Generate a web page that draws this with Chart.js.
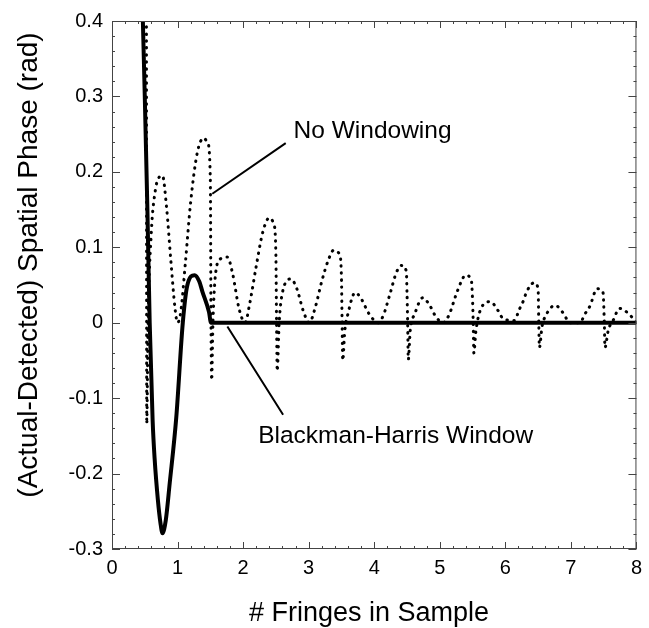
<!DOCTYPE html>
<html>
<head>
<meta charset="utf-8">
<script src="https://cdn.jsdelivr.net/npm/chart.js@4"></script>
<style>
  html, body { margin: 0; padding: 0; background: #fff; }
  #wrap { width: 649px; height: 628px; }
</style>
</head>
<body>
<div id="wrap"><canvas id="phase-chart" width="649" height="628"></canvas></div>
<script>
// values: [fringes, phase error in rad]
const noWindowX = [0.525, 0.53, 0.55, 0.6, 0.66, 0.72, 0.77, 0.83, 0.9, 0.96, 1.0, 1.05, 1.12, 1.2, 1.3, 1.4, 1.46, 1.5, 1.51, 1.52, 1.54, 1.58, 1.66, 1.76, 1.84, 1.94, 2.03,
  2.1, 2.2, 2.3, 2.4, 2.47, 2.5, 2.51, 2.52, 2.55, 2.6, 2.73, 2.82, 2.92, 3.01,
  3.1, 3.2, 3.3, 3.38, 3.47, 3.5, 3.51, 3.52, 3.55, 3.6, 3.71, 3.8, 3.92, 4.06,
  4.14, 4.24, 4.34, 4.42, 4.49, 4.5, 4.51, 4.52, 4.55, 4.62, 4.74, 4.84, 4.94, 5.05,
  5.14, 5.24, 5.33, 5.39, 5.48, 5.5, 5.51, 5.52, 5.55, 5.62, 5.77, 5.89, 5.97, 6.14,
  6.21, 6.27, 6.33, 6.44, 6.5, 6.51, 6.52, 6.56, 6.62, 6.76, 6.89, 6.98, 7.14,
  7.21, 7.29, 7.4, 7.49, 7.51, 7.52, 7.57, 7.65, 7.74, 7.88, 8.0];
const noWindowY = [0.42, -0.134, 0.0, 0.12, 0.175, 0.193, 0.195, 0.155, 0.08, 0.02, 0.0, 0.015, 0.08, 0.16, 0.225, 0.245, 0.238, 0.19, 0.0, -0.076, 0.0, 0.065, 0.085, 0.087, 0.065, 0.018, 0.0,
  0.025, 0.075, 0.12, 0.139, 0.13, 0.09, 0.0, -0.064, 0.0, 0.04, 0.058, 0.045, 0.015, 0.0,
  0.02, 0.055, 0.083, 0.096, 0.091, 0.06, 0.0, -0.05, -0.012, 0.012, 0.04, 0.032, 0.012, 0.0,
  0.01, 0.038, 0.067, 0.076, 0.068, 0.04, 0.0, -0.049, -0.01, 0.012, 0.033, 0.024, 0.008, 0.0,
  0.01, 0.035, 0.055, 0.063, 0.057, 0.03, 0.0, -0.04, -0.012, 0.017, 0.028, 0.016, 0.005, 0.003,
  0.017, 0.028, 0.042, 0.053, 0.045, 0.0, -0.033, -0.005, 0.01, 0.023, 0.012, 0.0, 0.0,
  0.011, 0.022, 0.045, 0.04, 0.0, -0.033, -0.01, 0.004, 0.019, 0.012, 0.0];

const windowX = [0.465, 0.5, 0.54, 0.575, 0.62, 0.65, 0.7, 0.74, 0.77, 0.82, 0.88, 0.98, 1.08, 1.15, 1.26, 1.33, 1.38, 1.48, 1.51, 8.0];
const windowY = [0.42, 0.3, 0.15, 0.0, -0.13, -0.18, -0.235, -0.266, -0.279, -0.262, -0.213, -0.126, 0.0, 0.05, 0.063, 0.055, 0.041, 0.014, 0.0, 0.0];

const xTicks = [0, 1, 2, 3, 4, 5, 6, 7, 8];
const yTicks = [-0.3, -0.2, -0.1, 0, 0.1, 0.2, 0.3, 0.4];
const yTickLabels = ['-0.3', '-0.2', '-0.1', '0', '0.1', '0.2', '0.3', '0.4'];

const xTitle = '# Fringes in Sample';
const yTitle = '(Actual-Detected) Spatial Phase (rad)';
const labelNoWindow = 'No Windowing';
const labelWindow = 'Blackman-Harris Window';

const FONT = "'Liberation Sans', Arial, Helvetica, sans-serif";

function toPoints(xs, ys) {
    return xs.map((x, i) => ({ x: x, y: ys[i] }));
}

// ticks pointing inward on all four sides, frame, titles and the two callouts
const framePlugin = {
    id: 'frame',
    afterDraw(chart) {
        const ctx = chart.ctx;
        const xs = chart.scales.x;
        const ys = chart.scales.y;
        const a = chart.chartArea;

        ctx.save();
        ctx.strokeStyle = '#444';
        ctx.lineWidth = 1;
        ctx.strokeRect(a.left + 0.5, a.top + 0.5, a.right - a.left - 1, a.bottom - a.top - 1);

        ctx.beginPath();
        for (let i = 0; i <= 40; i++) {
            const px = Math.round(xs.getPixelForValue(i * 0.2)) + 0.5;
            const len = i % 5 === 0 ? 7 : 3;
            ctx.moveTo(px, a.bottom); ctx.lineTo(px, a.bottom - len);
            ctx.moveTo(px, a.top); ctx.lineTo(px, a.top + len);
        }
        for (let i = 0; i <= 35; i++) {
            const py = Math.round(ys.getPixelForValue(-0.3 + i * 0.02)) + 0.5;
            const len = i % 5 === 0 ? 8 : 3;
            ctx.moveTo(a.left, py); ctx.lineTo(a.left + len, py);
            ctx.moveTo(a.right, py); ctx.lineTo(a.right - len, py);
        }
        ctx.stroke();

        // leader lines
        ctx.strokeStyle = '#000';
        ctx.lineWidth = 2;
        ctx.beginPath();
        ctx.moveTo(xs.getPixelForValue(1.53), ys.getPixelForValue(0.171));
        ctx.lineTo(xs.getPixelForValue(2.65), ys.getPixelForValue(0.238));
        ctx.moveTo(xs.getPixelForValue(1.76), ys.getPixelForValue(-0.005));
        ctx.lineTo(xs.getPixelForValue(2.61), ys.getPixelForValue(-0.122));
        ctx.stroke();

        ctx.fillStyle = '#000';
        ctx.textBaseline = 'middle';
        ctx.textAlign = 'left';
        ctx.font = '24.5px ' + FONT;
        ctx.fillText(labelNoWindow, xs.getPixelForValue(2.77), ys.getPixelForValue(0.254));
        ctx.fillText(labelWindow, xs.getPixelForValue(2.23), ys.getPixelForValue(-0.151));

        // axis titles
        ctx.textAlign = 'center';
        ctx.font = '27px ' + FONT;
        ctx.fillText(xTitle, 369, 614);
        ctx.translate(29, 265);
        ctx.rotate(-Math.PI / 2);
        ctx.font = '28px ' + FONT;
        ctx.fillText(yTitle, 0, 0);
        ctx.restore();
    }
};

new Chart(document.getElementById('phase-chart'), {
    type: 'scatter',
    data: {
        datasets: [
            {
                label: labelNoWindow,
                data: toPoints(noWindowX, noWindowY),
                showLine: true,
                borderColor: '#000',
                borderWidth: 3,
                borderDash: [0.5, 6.5],
                borderCapStyle: 'round',
                pointRadius: 0,
                cubicInterpolationMode: 'monotone',
                clip: 0
            },
            {
                label: labelWindow,
                data: toPoints(windowX, windowY),
                showLine: true,
                borderColor: '#000',
                borderWidth: 4,
                pointRadius: 0,
                cubicInterpolationMode: 'monotone',
                clip: 0
            }
        ]
    },
    options: {
        responsive: false,
        animation: false,
        layout: { padding: { left: 0, right: 9, top: 17, bottom: 0 } },
        plugins: {
            legend: { display: false },
            tooltip: { enabled: false }
        },
        scales: {
            x: {
                type: 'linear',
                min: 0,
                max: 8,
                afterBuildTicks: scale => { scale.ticks = xTicks.map(v => ({ value: v })); },
                afterFit: scale => { scale.height = 79; },
                grid: { display: false, drawTicks: false },
                border: { display: false },
                ticks: {
                    padding: 7,
                    color: '#000',
                    font: { family: FONT, size: 20 },
                    maxRotation: 0,
                    callback: v => String(v)
                }
            },
            y: {
                type: 'linear',
                min: -0.3,
                max: 0.4,
                afterBuildTicks: scale => { scale.ticks = yTicks.map(v => ({ value: v })); },
                afterFit: scale => { scale.width = 112; },
                grid: { display: false, drawTicks: false },
                border: { display: false },
                ticks: {
                    padding: 9,
                    color: '#000',
                    font: { family: FONT, size: 20 },
                    callback: (v, i) => yTickLabels[i]
                }
            }
        }
    },
    plugins: [framePlugin]
});
</script>
</body>
</html>
